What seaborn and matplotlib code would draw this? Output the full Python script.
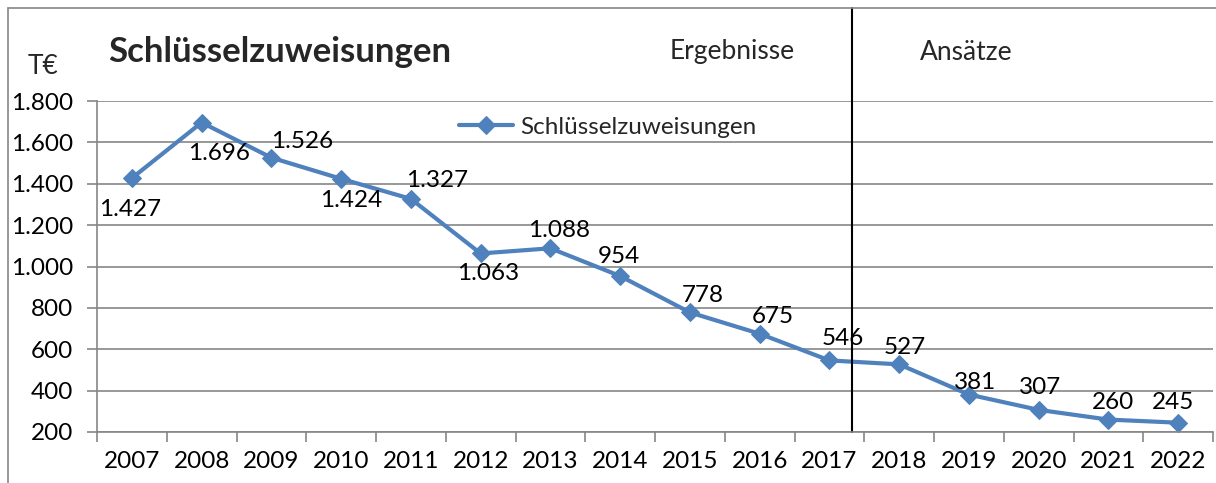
import matplotlib
matplotlib.use("Agg")
import matplotlib.pyplot as plt
from matplotlib.lines import Line2D
import seaborn as sns
import pandas as pd

years = ["2007", "2008", "2009", "2010", "2011", "2012", "2013", "2014",
         "2015", "2016", "2017", "2018", "2019", "2020", "2021", "2022"]
values = [1427, 1696, 1526, 1424, 1327, 1063, 1088, 954,
          778, 675, 546, 527, 381, 307, 260, 245]
series_name = "Schlüsselzuweisungen"
y_ticks = [200, 400, 600, 800, 1000, 1200, 1400, 1600, 1800]

# label offsets in pixels (dx, dy)
label_offsets = [(-2, -31), (17, -31), (31, 16), (10, -22), (26, 18), (7, -20),
                 (9, 18), (-1, 20), (13, 17), (13, 17), (13, 22), (6, 17),
                 (6, 12), (1, 22), (5, 17), (-5, 20)]

def de(v):
    return f"{v:,}".replace(",", ".")

sns.set_theme(style="white")
plt.rcParams["font.family"] = ["Lato", "DejaVu Sans"]

W, H = 1216, 483
FS = 17.5
fig = plt.figure(figsize=(W / 100, H / 100), dpi=100)
ax = fig.add_axes([97 / W, 1 - 432 / H, (1213 - 97) / W, (432 - 101) / H])

df = pd.DataFrame({"Jahr": years, "Wert": values})
df["pos"] = range(len(years))
color = "#4F81BD"
sns.lineplot(data=df, x="pos", y="Wert", ax=ax, color=color, linewidth=3.0,
             marker="D", markersize=9.5, markeredgecolor=color, label=series_name)

ax.set_xlim(-0.5, len(years) - 0.5)
ax.set_ylim(200, 1800)
ax.set_yticks(y_ticks)
ax.set_yticklabels([de(v) for v in y_ticks], fontsize=FS)
ax.set_xticks([i - 0.5 for i in range(len(years) + 1)])
ax.set_xticklabels([])
ax.set_xticks(range(len(years)), minor=True)
ax.set_xticklabels(years, minor=True, fontsize=FS)
ax.tick_params(axis="x", which="major", direction="out", length=7, width=1.2,
               color="#868686", bottom=True)
ax.tick_params(axis="x", which="minor", length=0, pad=14, labelcolor="black")
ax.tick_params(axis="y", direction="out", length=7, width=1.2, color="#868686",
               left=True, pad=10, labelcolor="black")
ax.set_xlabel("")
ax.set_ylabel("")
ax.grid(axis="y", color="#868686", linewidth=1.2)
ax.grid(axis="x", visible=False)
for s in ["top", "right"]:
    ax.spines[s].set_visible(False)
for s in ["left", "bottom"]:
    ax.spines[s].set_color("#868686")
    ax.spines[s].set_linewidth(1.2)

for i, (v, (dx, dy)) in enumerate(zip(values, label_offsets)):
    ax.annotate(de(v), (i, v), xytext=(dx, dy), textcoords="offset pixels",
                ha="center", va="center", fontsize=FS, color="black")

# divider between results and budget
ax.axvline(10.32, ymin=0, ymax=(432 - 8) / (432 - 101), color="black",
           linewidth=1.5, clip_on=False)

leg = ax.legend(loc="center left", bbox_to_anchor=(0.305, 0.921), frameon=False,
                fontsize=FS, handlelength=2.2, handletextpad=0.3)

fig.text(108 / W, 1 - 52 / H, "Schlüsselzuweisungen", fontsize=25,
         fontweight="bold", ha="left", va="center")
fig.text(28 / W, 1 - 67 / H, "T€", fontsize=19, ha="left", va="center")
fig.text(670 / W, 1 - 52 / H, "Ergebnisse", fontsize=19, ha="left", va="center")
fig.text(920 / W, 1 - 52 / H, "Ansätze", fontsize=19, ha="left", va="center")

# outer frame lines
fig.add_artist(Line2D([8 / W, 1], [1 - 8 / H, 1 - 8 / H], color="#868686",
                      linewidth=1.2, transform=fig.transFigure))
fig.add_artist(Line2D([8 / W, 8 / W], [0, 1 - 8 / H], color="#868686",
                      linewidth=1.2, transform=fig.transFigure))

fig.savefig("out.png", dpi=100)
